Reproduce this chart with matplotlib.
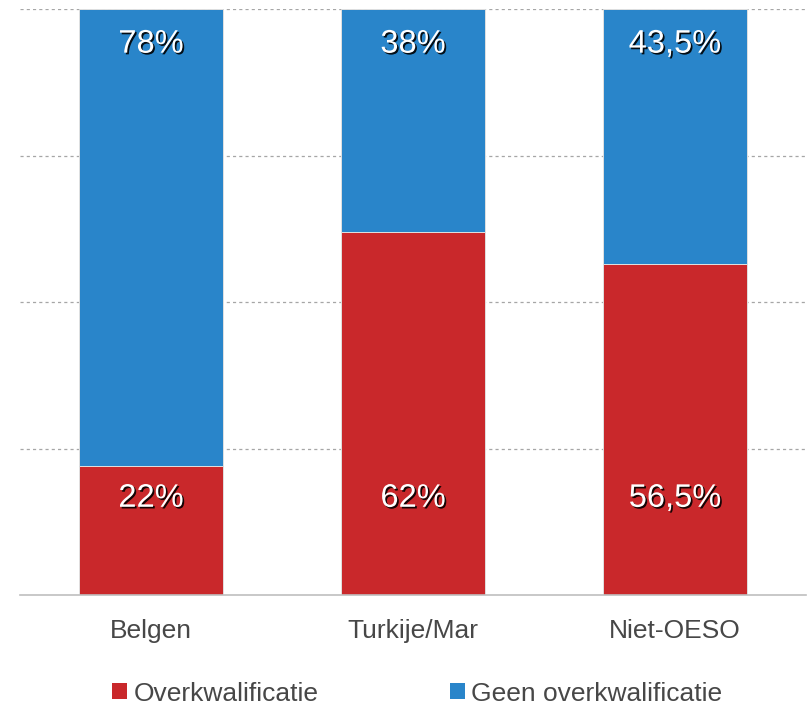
import matplotlib
matplotlib.use('Agg')
import matplotlib.pyplot as plt
import matplotlib.patheffects as pe
from matplotlib.patches import Patch
import numpy as np

plt.rcParams['font.family'] = ['Liberation Sans', 'DejaVu Sans']

categories = ['Belgen', 'Turkije/Mar', 'Niet-OESO']
overkwalificatie = [22, 62, 56.5]
geen_overkwalificatie = [78, 38, 43.5]
labels_over = ['22%', '62%', '56,5%']
labels_geen = ['78%', '38%', '43,5%']
series_names = ['Overkwalificatie', 'Geen overkwalificatie']

red = '#C9282B'
blue = '#2985CA'
txt = '#474747'

fig = plt.figure(figsize=(8.09, 7.07), dpi=100)
ax = fig.add_axes([20 / 809, 1 - 595 / 707, 786 / 809, 586 / 707])

x = np.arange(len(categories))
w = 0.553
over = np.array(overkwalificatie)
geen = np.array(geen_overkwalificatie)

ax.bar(x, over, w, color=red, edgecolor='#e0e0e0', linewidth=0.7, zorder=3)
ax.bar(x, geen, w, bottom=over, color=blue, edgecolor='#e0e0e0', linewidth=0.7, zorder=3)

# witte labels met schaduw
shadow = [pe.withSimplePatchShadow(offset=(1.2, -1.2), shadow_rgbFace='black', alpha=0.9)]
for i in range(len(categories)):
    ax.text(x[i], 94, labels_geen[i], ha='center', va='center', color='white',
            fontsize=23.5, zorder=5, path_effects=shadow)
    ax.text(x[i], 16.5, labels_over[i], ha='center', va='center', color='white',
            fontsize=23.5, zorder=5, path_effects=shadow)

ax.set_xlim(-0.5, 2.5)
ax.set_ylim(0, 100)
ax.set_yticks([25, 50, 75, 100])
ax.yaxis.grid(True, color='#a6a6a6', linestyle=(0, (2.5, 2.5)), linewidth=0.9, zorder=0)
ax.tick_params(axis='y', left=False, labelleft=False)
ax.set_xticks(x)
ax.set_xticklabels(categories, fontsize=19, color=txt)
ax.tick_params(axis='x', length=0, pad=17)
for s in ['top', 'right', 'left']:
    ax.spines[s].set_visible(False)
ax.spines['bottom'].set_color('#bfbfbf')
ax.spines['bottom'].set_linewidth(1.2)
ax.spines['bottom'].set_zorder(4)

handles = [Patch(facecolor=red, edgecolor='none'), Patch(facecolor=blue, edgecolor='none')]
fig.legend(handles, series_names, loc='center', bbox_to_anchor=(0.516, 0.019), ncol=2,
           frameon=False, fontsize=19, handlelength=0.55, handleheight=0.55,
           handletextpad=0.25, columnspacing=5.0, labelcolor=txt)

fig.savefig('out.png', dpi=100)
